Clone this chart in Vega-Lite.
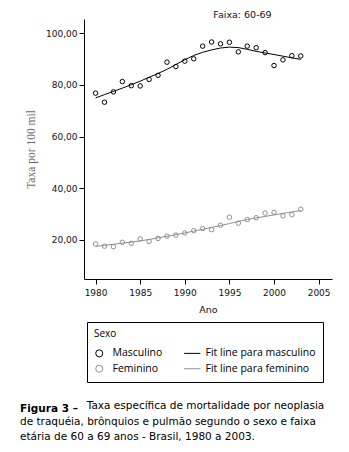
{
  "$schema": "https://vega.github.io/schema/vega-lite/v6.json",
  "autosize": "none",
  "width": 248,
  "height": 260,
  "padding": {"left": 84, "top": 19, "right": 17, "bottom": 173},
  "background": "white",
  "config": {
    "view": {"stroke": null},
    "axis": {"grid": false, "domainColor": "#000", "tickColor": "#000", "labelColor": "#111", "labelFont": "DejaVu Sans", "labelFontSize": 9, "titleFont": "DejaVu Sans", "titleFontSize": 9.5, "titleFontWeight": "normal", "titleColor": "#111", "tickSize": 5}
  },
  "datasets": {
    "pontos": [
      {"ano": 1980, "taxa": 76.8, "serie": "Masculino"},
      {"ano": 1981, "taxa": 73.3, "serie": "Masculino"},
      {"ano": 1982, "taxa": 77.3, "serie": "Masculino"},
      {"ano": 1983, "taxa": 81.3, "serie": "Masculino"},
      {"ano": 1984, "taxa": 79.7, "serie": "Masculino"},
      {"ano": 1985, "taxa": 79.6, "serie": "Masculino"},
      {"ano": 1986, "taxa": 82.1, "serie": "Masculino"},
      {"ano": 1987, "taxa": 83.7, "serie": "Masculino"},
      {"ano": 1988, "taxa": 88.8, "serie": "Masculino"},
      {"ano": 1989, "taxa": 87.1, "serie": "Masculino"},
      {"ano": 1990, "taxa": 89.2, "serie": "Masculino"},
      {"ano": 1991, "taxa": 90.1, "serie": "Masculino"},
      {"ano": 1992, "taxa": 95.0, "serie": "Masculino"},
      {"ano": 1993, "taxa": 96.6, "serie": "Masculino"},
      {"ano": 1994, "taxa": 95.9, "serie": "Masculino"},
      {"ano": 1995, "taxa": 96.5, "serie": "Masculino"},
      {"ano": 1996, "taxa": 92.8, "serie": "Masculino"},
      {"ano": 1997, "taxa": 95.0, "serie": "Masculino"},
      {"ano": 1998, "taxa": 94.4, "serie": "Masculino"},
      {"ano": 1999, "taxa": 92.5, "serie": "Masculino"},
      {"ano": 2000, "taxa": 87.5, "serie": "Masculino"},
      {"ano": 2001, "taxa": 89.7, "serie": "Masculino"},
      {"ano": 2002, "taxa": 91.3, "serie": "Masculino"},
      {"ano": 2003, "taxa": 91.2, "serie": "Masculino"},
      {"ano": 1980, "taxa": 18.45, "serie": "Feminino"},
      {"ano": 1981, "taxa": 17.6, "serie": "Feminino"},
      {"ano": 1982, "taxa": 17.4, "serie": "Feminino"},
      {"ano": 1983, "taxa": 19.1, "serie": "Feminino"},
      {"ano": 1984, "taxa": 18.7, "serie": "Feminino"},
      {"ano": 1985, "taxa": 20.4, "serie": "Feminino"},
      {"ano": 1986, "taxa": 19.4, "serie": "Feminino"},
      {"ano": 1987, "taxa": 20.6, "serie": "Feminino"},
      {"ano": 1988, "taxa": 21.5, "serie": "Feminino"},
      {"ano": 1989, "taxa": 21.9, "serie": "Feminino"},
      {"ano": 1990, "taxa": 22.7, "serie": "Feminino"},
      {"ano": 1991, "taxa": 23.6, "serie": "Feminino"},
      {"ano": 1992, "taxa": 24.4, "serie": "Feminino"},
      {"ano": 1993, "taxa": 24.0, "serie": "Feminino"},
      {"ano": 1994, "taxa": 25.7, "serie": "Feminino"},
      {"ano": 1995, "taxa": 28.8, "serie": "Feminino"},
      {"ano": 1996, "taxa": 26.5, "serie": "Feminino"},
      {"ano": 1997, "taxa": 27.9, "serie": "Feminino"},
      {"ano": 1998, "taxa": 28.6, "serie": "Feminino"},
      {"ano": 1999, "taxa": 30.4, "serie": "Feminino"},
      {"ano": 2000, "taxa": 30.7, "serie": "Feminino"},
      {"ano": 2001, "taxa": 29.3, "serie": "Feminino"},
      {"ano": 2002, "taxa": 29.8, "serie": "Feminino"},
      {"ano": 2003, "taxa": 31.9, "serie": "Feminino"}
    ],
    "ajuste": [
      {"ano": 1980, "taxa": 76.8, "serie": "Fit line para masculino"},
      {"ano": 1981, "taxa": 73.3, "serie": "Fit line para masculino"},
      {"ano": 1982, "taxa": 77.3, "serie": "Fit line para masculino"},
      {"ano": 1983, "taxa": 81.3, "serie": "Fit line para masculino"},
      {"ano": 1984, "taxa": 79.7, "serie": "Fit line para masculino"},
      {"ano": 1985, "taxa": 79.6, "serie": "Fit line para masculino"},
      {"ano": 1986, "taxa": 82.1, "serie": "Fit line para masculino"},
      {"ano": 1987, "taxa": 83.7, "serie": "Fit line para masculino"},
      {"ano": 1988, "taxa": 88.8, "serie": "Fit line para masculino"},
      {"ano": 1989, "taxa": 87.1, "serie": "Fit line para masculino"},
      {"ano": 1990, "taxa": 89.2, "serie": "Fit line para masculino"},
      {"ano": 1991, "taxa": 90.1, "serie": "Fit line para masculino"},
      {"ano": 1992, "taxa": 95.0, "serie": "Fit line para masculino"},
      {"ano": 1993, "taxa": 96.6, "serie": "Fit line para masculino"},
      {"ano": 1994, "taxa": 95.9, "serie": "Fit line para masculino"},
      {"ano": 1995, "taxa": 96.5, "serie": "Fit line para masculino"},
      {"ano": 1996, "taxa": 92.8, "serie": "Fit line para masculino"},
      {"ano": 1997, "taxa": 95.0, "serie": "Fit line para masculino"},
      {"ano": 1998, "taxa": 94.4, "serie": "Fit line para masculino"},
      {"ano": 1999, "taxa": 92.5, "serie": "Fit line para masculino"},
      {"ano": 2000, "taxa": 87.5, "serie": "Fit line para masculino"},
      {"ano": 2001, "taxa": 89.7, "serie": "Fit line para masculino"},
      {"ano": 2002, "taxa": 91.3, "serie": "Fit line para masculino"},
      {"ano": 2003, "taxa": 91.2, "serie": "Fit line para masculino"},
      {"ano": 1980, "taxa": 18.45, "serie": "Fit line para feminino"},
      {"ano": 1981, "taxa": 17.6, "serie": "Fit line para feminino"},
      {"ano": 1982, "taxa": 17.4, "serie": "Fit line para feminino"},
      {"ano": 1983, "taxa": 19.1, "serie": "Fit line para feminino"},
      {"ano": 1984, "taxa": 18.7, "serie": "Fit line para feminino"},
      {"ano": 1985, "taxa": 20.4, "serie": "Fit line para feminino"},
      {"ano": 1986, "taxa": 19.4, "serie": "Fit line para feminino"},
      {"ano": 1987, "taxa": 20.6, "serie": "Fit line para feminino"},
      {"ano": 1988, "taxa": 21.5, "serie": "Fit line para feminino"},
      {"ano": 1989, "taxa": 21.9, "serie": "Fit line para feminino"},
      {"ano": 1990, "taxa": 22.7, "serie": "Fit line para feminino"},
      {"ano": 1991, "taxa": 23.6, "serie": "Fit line para feminino"},
      {"ano": 1992, "taxa": 24.4, "serie": "Fit line para feminino"},
      {"ano": 1993, "taxa": 24.0, "serie": "Fit line para feminino"},
      {"ano": 1994, "taxa": 25.7, "serie": "Fit line para feminino"},
      {"ano": 1995, "taxa": 28.8, "serie": "Fit line para feminino"},
      {"ano": 1996, "taxa": 26.5, "serie": "Fit line para feminino"},
      {"ano": 1997, "taxa": 27.9, "serie": "Fit line para feminino"},
      {"ano": 1998, "taxa": 28.6, "serie": "Fit line para feminino"},
      {"ano": 1999, "taxa": 30.4, "serie": "Fit line para feminino"},
      {"ano": 2000, "taxa": 30.7, "serie": "Fit line para feminino"},
      {"ano": 2001, "taxa": 29.3, "serie": "Fit line para feminino"},
      {"ano": 2002, "taxa": 29.8, "serie": "Fit line para feminino"},
      {"ano": 2003, "taxa": 31.9, "serie": "Fit line para feminino"}
    ]
  },
  "title": {
    "text": "Figura 3 –",
    "subtitle": [
      "\u200b\u00a0\u00a0\u00a0\u00a0\u00a0\u00a0\u00a0\u00a0\u00a0\u00a0\u00a0\u00a0\u00a0\u00a0\u00a0\u00a0\u00a0\u00a0\u00a0\u00a0Taxa específica de mortalidade por neoplasia",
      "de traquéia, brônquios e pulmão segundo o sexo e faixa",
      "etária de 60 a 69 anos - Brasil, 1980 a 2003."
    ],
    "orient": "bottom",
    "anchor": "start",
    "frame": "group",
    "dx": -64,
    "offset": 21,
    "font": "DejaVu Sans",
    "fontSize": 10.5,
    "fontWeight": "bold",
    "color": "#000",
    "subtitleFont": "DejaVu Sans",
    "subtitleFontSize": 10.5,
    "subtitleColor": "#000",
    "subtitleLineHeight": 15.5,
    "subtitlePadding": -13
  },
  "resolve": {"axis": {"x": "independent"}},
  "layer": [
    {
      "data": {"name": "pontos"},
      "mark": {"type": "point", "filled": false, "size": 20, "strokeWidth": 1, "opacity": 1},
      "encoding": {
        "x": {"field": "ano", "type": "quantitative", "scale": {"domain": [1978.7, 2006.5], "nice": false, "zero": false},
              "axis": {"title": "Ano", "values": [1980, 1985, 1990, 1995, 2000, 2005], "format": "d", "labelPadding": 4, "titlePadding": 7}},
        "y": {"field": "taxa", "type": "quantitative", "scale": {"domain": [4.9, 105.5], "nice": false, "zero": false},
              "axis": {"title": "Taxa por 100 mil", "values": [20, 40, 60, 80, 100], "labelExpr": "replace(format(datum.value, '.2f'), '.', ',')", "labelPadding": 2, "titleFont": "Liberation Serif", "titleFontSize": 11.5, "titleColor": "#666", "titlePadding": 9}},
        "stroke": {"field": "serie", "type": "nominal",
                   "scale": {"domain": ["Masculino", "Feminino", "Fit line para masculino", "Fit line para feminino"], "range": ["#000000", "#8f8f8f", "#000000", "#8f8f8f"]},
                   "legend": {"title": "Sexo", "orient": "none", "legendX": 3, "legendY": 303, "columns": 2, "columnPadding": 19, "rowPadding": 3.5, "padding": 7, "strokeColor": "#000", "titleFont": "Open Sans", "titleFontSize": 10, "titleFontWeight": "normal", "titleColor": "#000", "titlePadding": 9, "labelFont": "Open Sans", "labelFontSize": 10.5, "labelColor": "#000", "symbolSize": 50, "symbolStrokeWidth": 1, "labelOffset": 8}},
        "shape": {"field": "serie", "type": "nominal",
                  "scale": {"domain": ["Masculino", "Feminino", "Fit line para masculino", "Fit line para feminino"], "range": ["circle", "circle", "M-2.3,0H2.3", "M-2.3,0H2.3"]},
                  "legend": {"title": "Sexo", "orient": "none", "legendX": 3, "legendY": 303, "columns": 2, "columnPadding": 19, "rowPadding": 3.5, "padding": 7, "strokeColor": "#000", "titleFont": "Open Sans", "titleFontSize": 10, "titleFontWeight": "normal", "titleColor": "#000", "titlePadding": 9, "labelFont": "Open Sans", "labelFontSize": 10.5, "labelColor": "#000", "symbolSize": 50, "symbolStrokeWidth": 1, "labelOffset": 8}}
      }
    },
    {
      "data": {"name": "ajuste"},
      "transform": [{"loess": "taxa", "on": "ano", "groupby": ["serie"], "bandwidth": 0.5}],
      "mark": {"type": "line", "strokeWidth": 1},
      "encoding": {
        "x": {"field": "ano", "type": "quantitative",
              "axis": {"orient": "top", "title": "Faixa: 60-69", "domain": false, "ticks": false, "labels": false, "titlePadding": 0, "titleX": 158, "titleFontSize": 9.5}},
        "y": {"field": "taxa", "type": "quantitative"},
        "stroke": {"field": "serie", "type": "nominal"}
      }
    }
  ]
}
